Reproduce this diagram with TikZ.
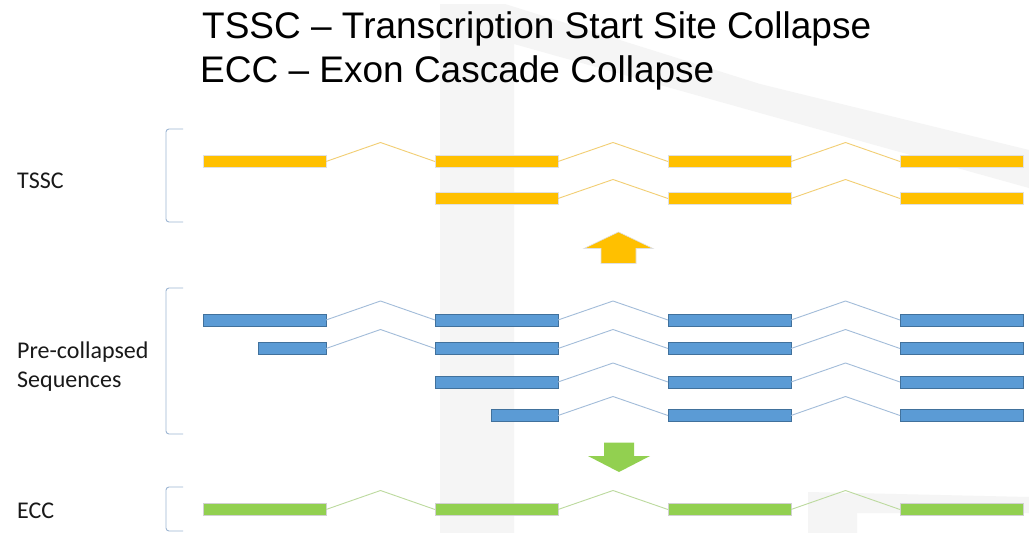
\documentclass[tikz,border=0pt]{standalone}
\usepackage{fontspec}
\setmainfont{Carlito}
\newfontfamily\titlefont{Liberation Sans}
\usepackage{xcolor}
\usepackage{tikz}
\usetikzlibrary{calc}
\definecolor{exonyellow}{HTML}{FFC000}
\definecolor{exonblue}{HTML}{5B9BD5}
\definecolor{exonblueedge}{HTML}{41719C}
\definecolor{exongreen}{HTML}{92D050}
\definecolor{intronyellow}{HTML}{F2CE72}
\definecolor{intronblue}{HTML}{A2BCD9}
\definecolor{introngreen}{HTML}{BCDA9E}
\definecolor{bracketblue}{HTML}{9EB6D3}
\definecolor{watermark}{HTML}{F5F5F5}
\tikzset{
    exon/.style={anchor=west, minimum height=12pt, inner sep=0pt, outer sep=0pt},
    tssc exon/.style={exon, fill=exonyellow, draw=black!12, line width=0.6pt},
    pre exon/.style={exon, fill=exonblue, draw=exonblueedge, line width=0.9pt},
    ecc exon/.style={exon, fill=exongreen, draw=black!18, line width=0.6pt},
    full/.style={minimum width=123pt},
    label/.style={anchor=base west, inner sep=0pt, text=black!90, font=\fontsize{24}{29}\selectfont},
    bracket/.style={color=bracketblue, line width=0.9pt, rounded corners=3pt},
}
\tikzset{
    intron/.style args={#1:#2}{
        insert path={(#1.east) -- ($(#1.east)!0.5!(#2.west) + (0,-19)$) -- (#2.west)}
    }
}

\begin{document}
\begin{tikzpicture}[x=1pt, y=-1pt]
    \useasboundingbox (0,0) rectangle (1029,533);
    \fill[white] (0,0) rectangle (1029,533);
    % watermark behind everything
    \fill[watermark] (440,533) -- (440,4) -- (505,4) -- (760,84) -- (1029,150) -- (1029,188) -- (760,113) -- (514,44) -- (514,533) -- cycle;
    \fill[watermark] (808,533) -- (808,492) -- (1029,497) -- (1029,513) -- (857,513) -- (857,533) -- cycle;
    % title
    \node[anchor=base west, inner sep=0pt] (title1) at (202,38.5) {\titlefont\fontsize{37}{43.5}\selectfont TSSC – Transcription Start Site Collapse};
    \node[anchor=base west, inner sep=0pt] (title2) at (200,82) {\titlefont\fontsize{37}{43.5}\selectfont ECC – Exon Cascade Collapse};
    % row labels
    \node[label] (tssc) at (17,188.7) {TSSC};
    \node[label] (pre) at (17,358.3) {Pre-collapsed};
    \node[label, anchor=base west] (seq) at ([yshift=-29pt]pre.base west) {Sequences};
    \node[label] (ecc) at (17,518.5) {ECC};
    % brackets
    \draw[bracket] (183,129) -- (166,129) -- (166,222) -- (183,222);
    \draw[bracket] (183,288) -- (166,288) -- (166,434) -- (183,434);
    \draw[bracket] (183,487) -- (166,487) -- (166,531) -- (183,531);
    % TSSC rows
    \node[tssc exon, full] (t1a) at (203,161.5) {};
    \node[tssc exon, full] (t1b) at (435,161.5) {};
    \node[tssc exon, full] (t1c) at (668,161.5) {};
    \node[tssc exon, full] (t1d) at (900,161.5) {};
    \node[tssc exon, full] (t2b) at (435,198.5) {};
    \node[tssc exon, full] (t2c) at (668,198.5) {};
    \node[tssc exon, full] (t2d) at (900,198.5) {};
    \draw[color=intronyellow, line width=0.9pt] (t1a) [intron=t1a:t1b];
    \draw[color=intronyellow, line width=0.9pt] (t1b) [intron=t1b:t1c];
    \draw[color=intronyellow, line width=0.9pt] (t1c) [intron=t1c:t1d];
    \draw[color=intronyellow, line width=0.9pt] (t2b) [intron=t2b:t2c];
    \draw[color=intronyellow, line width=0.9pt] (t2c) [intron=t2c:t2d];
    % collapse up
    \filldraw[fill=exonyellow, draw=black!12, line width=0.6pt] (618.5,232) -- (653,248.5) -- (636,248.5) -- (636,263.5) -- (601,263.5) -- (601,248.5) -- (584,248.5) -- cycle;
    % pre-collapsed rows
    \node[pre exon, full] (p1a) at (203,320) {};
    \node[pre exon, full] (p1b) at (435,320) {};
    \node[pre exon, full] (p1c) at (668,320) {};
    \node[pre exon, full] (p1d) at (900,320) {};
    \node[pre exon, minimum width=68pt] (p2a) at (258,348.5) {};
    \node[pre exon, full] (p2b) at (435,348.5) {};
    \node[pre exon, full] (p2c) at (668,348.5) {};
    \node[pre exon, full] (p2d) at (900,348.5) {};
    \node[pre exon, full] (p3b) at (435,382) {};
    \node[pre exon, full] (p3c) at (668,382) {};
    \node[pre exon, full] (p3d) at (900,382) {};
    \node[pre exon, minimum width=67pt] (p4b) at (491,415.5) {};
    \node[pre exon, full] (p4c) at (668,415.5) {};
    \node[pre exon, full] (p4d) at (900,415.5) {};
    \draw[color=intronblue, line width=0.9pt] (p1a) [intron=p1a:p1b];
    \draw[color=intronblue, line width=0.9pt] (p1b) [intron=p1b:p1c];
    \draw[color=intronblue, line width=0.9pt] (p1c) [intron=p1c:p1d];
    \draw[color=intronblue, line width=0.9pt] (p2a) [intron=p2a:p2b];
    \draw[color=intronblue, line width=0.9pt] (p2b) [intron=p2b:p2c];
    \draw[color=intronblue, line width=0.9pt] (p2c) [intron=p2c:p2d];
    \draw[color=intronblue, line width=0.9pt] (p3b) [intron=p3b:p3c];
    \draw[color=intronblue, line width=0.9pt] (p3c) [intron=p3c:p3d];
    \draw[color=intronblue, line width=0.9pt] (p4b) [intron=p4b:p4c];
    \draw[color=intronblue, line width=0.9pt] (p4c) [intron=p4c:p4d];
    % collapse down
    \fill[exongreen] (604,442.5) -- (634,442.5) -- (634,456) -- (650,456) -- (619,472) -- (588,456) -- (604,456) -- cycle;
    % ECC row
    \node[ecc exon, full] (e1a) at (203,509.5) {};
    \node[ecc exon, full] (e1b) at (435,509.5) {};
    \node[ecc exon, full] (e1c) at (668,509.5) {};
    \node[ecc exon, full] (e1d) at (900,509.5) {};
    \draw[color=introngreen, line width=0.9pt] (e1a) [intron=e1a:e1b];
    \draw[color=introngreen, line width=0.9pt] (e1b) [intron=e1b:e1c];
    \draw[color=introngreen, line width=0.9pt] (e1c) [intron=e1c:e1d];
\end{tikzpicture}
\end{document}
